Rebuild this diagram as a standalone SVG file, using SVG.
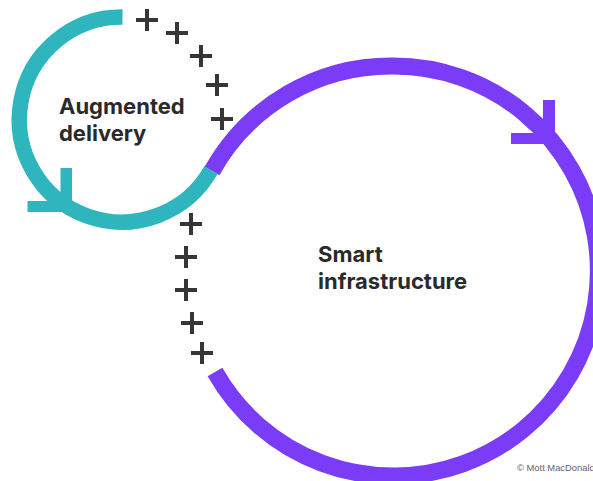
<svg xmlns="http://www.w3.org/2000/svg" width="593" height="481" viewBox="0 0 593 481">
<style>
.lbl{font-family:"Inter","Liberation Sans",sans-serif;font-weight:700;font-size:22px;fill:#2a2a2c}
.plus{stroke:#363636;stroke-width:4;fill:none}
.arc{fill:none;stroke-width:15.500}
.big{stroke-width:17}
</style>
<defs><path id="p" class="plus" d="M-11 0H11M0 -11V11"/></defs>
<rect width="593" height="481" fill="#fff"/>
<g id="connectors">
<g id="smart-loop">
<path class="arc big" stroke="#7a3cf7" d="M215 372A205 205 0 1 0 393 66A205 205 0 0 0 212 171"/>
<path fill="#7a3cf7" d="M543 100H555V144H511V133H543Z"/>
</g>
<g id="augmented-loop">
<path class="arc" stroke="#2fb5bd" d="M122.500 17A102.500 102.500 0 1 0 211 170"/>
<path fill="#2fb5bd" d="M60.500 168H72V212H27.500V201H60.500Z"/>
</g>
<g id="plus-top">
<use href="#p" x="147" y="20"/><use href="#p" x="177" y="33"/><use href="#p" x="201" y="56"/><use href="#p" x="217" y="85"/><use href="#p" x="222" y="119"/>
</g>
<g id="plus-bottom">
<use href="#p" x="191" y="224"/><use href="#p" x="186" y="257"/><use href="#p" x="186" y="290"/><use href="#p" x="192" y="323"/><use href="#p" x="202" y="353"/>
</g>
</g>
<g id="node-augmented">
<text class="lbl" x="59" y="114">Augmented</text>
<text class="lbl" x="59" y="141">delivery</text>
</g>
<g id="node-smart">
<text class="lbl" x="318" y="262">Smart</text>
<text class="lbl" x="318" y="289">infrastructure</text>
</g>
<text x="517" y="471" font-family="Liberation Sans,sans-serif" font-size="9.400" fill="#666">© Mott MacDonald</text>
</svg>
